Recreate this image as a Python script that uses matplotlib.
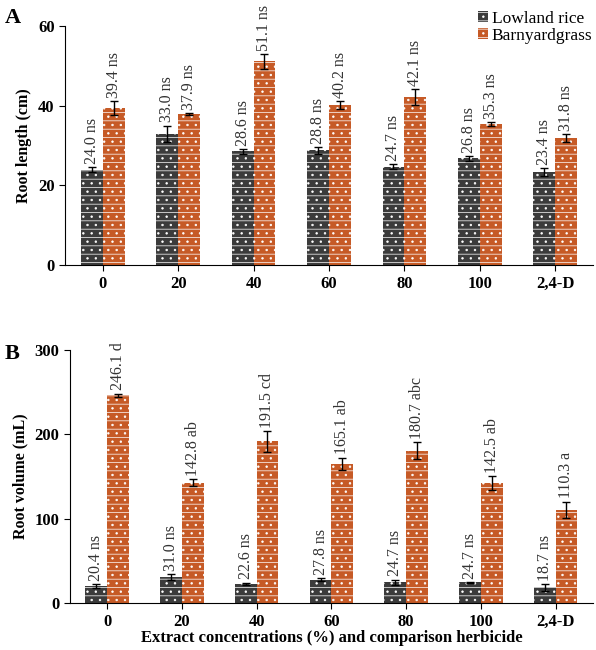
import matplotlib.pyplot as plt
import numpy as np

plt.rcParams['font.family'] = ['Liberation Serif', 'DejaVu Serif']
plt.rcParams['hatch.color'] = 'white'
plt.rcParams['hatch.linewidth'] = 0.5

# data
groups = ['0', '20', '40', '60', '80', '100', '2,4-D']

len_rice = [24.0, 33.0, 28.6, 28.8, 24.7, 26.8, 23.4]
len_rice_se = [0.7, 2.0, 0.6, 0.8, 0.6, 0.6, 1.0]
len_barn = [39.4, 37.9, 51.1, 40.2, 42.1, 35.3, 31.8]
len_barn_se = [1.8, 0.3, 1.8, 1.0, 2.0, 0.5, 1.0]
len_rice_lab = ['ns'] * 7
len_barn_lab = ['ns'] * 7

vol_rice = [20.4, 31.0, 22.6, 27.8, 24.7, 24.7, 18.7]
vol_rice_se = [2.0, 3.0, 1.5, 2.0, 3.0, 0.5, 4.0]
vol_barn = [246.1, 142.8, 191.5, 165.1, 180.7, 142.5, 110.3]
vol_barn_se = [2.0, 4.0, 12.0, 7.0, 10.0, 8.0, 10.0]
vol_rice_lab = ['ns'] * 7
vol_barn_lab = ['d', 'ab', 'cd', 'ab', 'abc', 'ab', 'a']

c_rice = '#3b3b3b'
c_barn = '#c65a26'

fig = plt.figure(figsize=(5.96, 6.5), dpi=100)
axA = fig.add_axes([0.109, 0.592, 0.886, 0.368])
axB = fig.add_axes([0.117, 0.072, 0.878, 0.39])

x = np.arange(len(groups))
w = 0.29


def panel(ax, r, rse, b, bse, rlab, blab, ymax, step, pad):
    ax.bar(x - w / 2, r, w, color=c_rice, hatch='--..', edgecolor='white', linewidth=0,
           label='Lowland rice')
    ax.bar(x + w / 2, b, w, color=c_barn, hatch='--..', edgecolor='white', linewidth=0,
           label='Barnyardgrass')
    ax.errorbar(x - w / 2, r, yerr=rse, fmt='none', ecolor='black', elinewidth=1, capsize=3)
    ax.errorbar(x + w / 2, b, yerr=bse, fmt='none', ecolor='black', elinewidth=1, capsize=3)
    for i in range(len(x)):
        ax.text(x[i] - w / 2, r[i] + rse[i] + pad, f'{r[i]:.1f} {rlab[i]}', rotation=90,
                ha='center', va='bottom', fontsize=11.5, color='#333333')
        ax.text(x[i] + w / 2, b[i] + bse[i] + pad, f'{b[i]:.1f} {blab[i]}', rotation=90,
                ha='center', va='bottom', fontsize=11.5, color='#333333')
    ax.set_xlim(-0.5, len(x) - 0.5)
    ax.set_ylim(0, ymax)
    ax.set_yticks(np.arange(0, ymax + 1, step))
    ax.set_xticks(x)
    ax.set_xticklabels(groups)
    ax.spines['top'].set_visible(False)
    ax.spines['right'].set_visible(False)
    ax.tick_params(labelsize=12, length=4)
    for t in ax.get_xticklabels() + ax.get_yticklabels():
        t.set_fontweight('bold')


panel(axA, len_rice, len_rice_se, len_barn, len_barn_se, len_rice_lab, len_barn_lab, 60, 20, 0.8)
panel(axB, vol_rice, vol_rice_se, vol_barn, vol_barn_se, vol_rice_lab, vol_barn_lab, 300, 100, 4)

axA.set_ylabel('Root length (cm)', fontweight='bold', fontsize=11.5)
axB.set_ylabel('Root volume (mL)', fontweight='bold', fontsize=11.5)
axB.set_xlabel('Extract concentrations (%) and comparison herbicide', fontweight='bold',
               fontsize=12, labelpad=0)

axA.legend(loc='upper right', bbox_to_anchor=(1.015, 1.1), frameon=False, fontsize=12.5,
           handlelength=0.6, handleheight=0.6, handletextpad=0.2, labelspacing=0.05,
           borderpad=0)

fig.text(0.008, 0.965, 'A', fontsize=16, fontweight='bold')
fig.text(0.008, 0.447, 'B', fontsize=16, fontweight='bold')

fig.savefig('out.png', dpi=100)
